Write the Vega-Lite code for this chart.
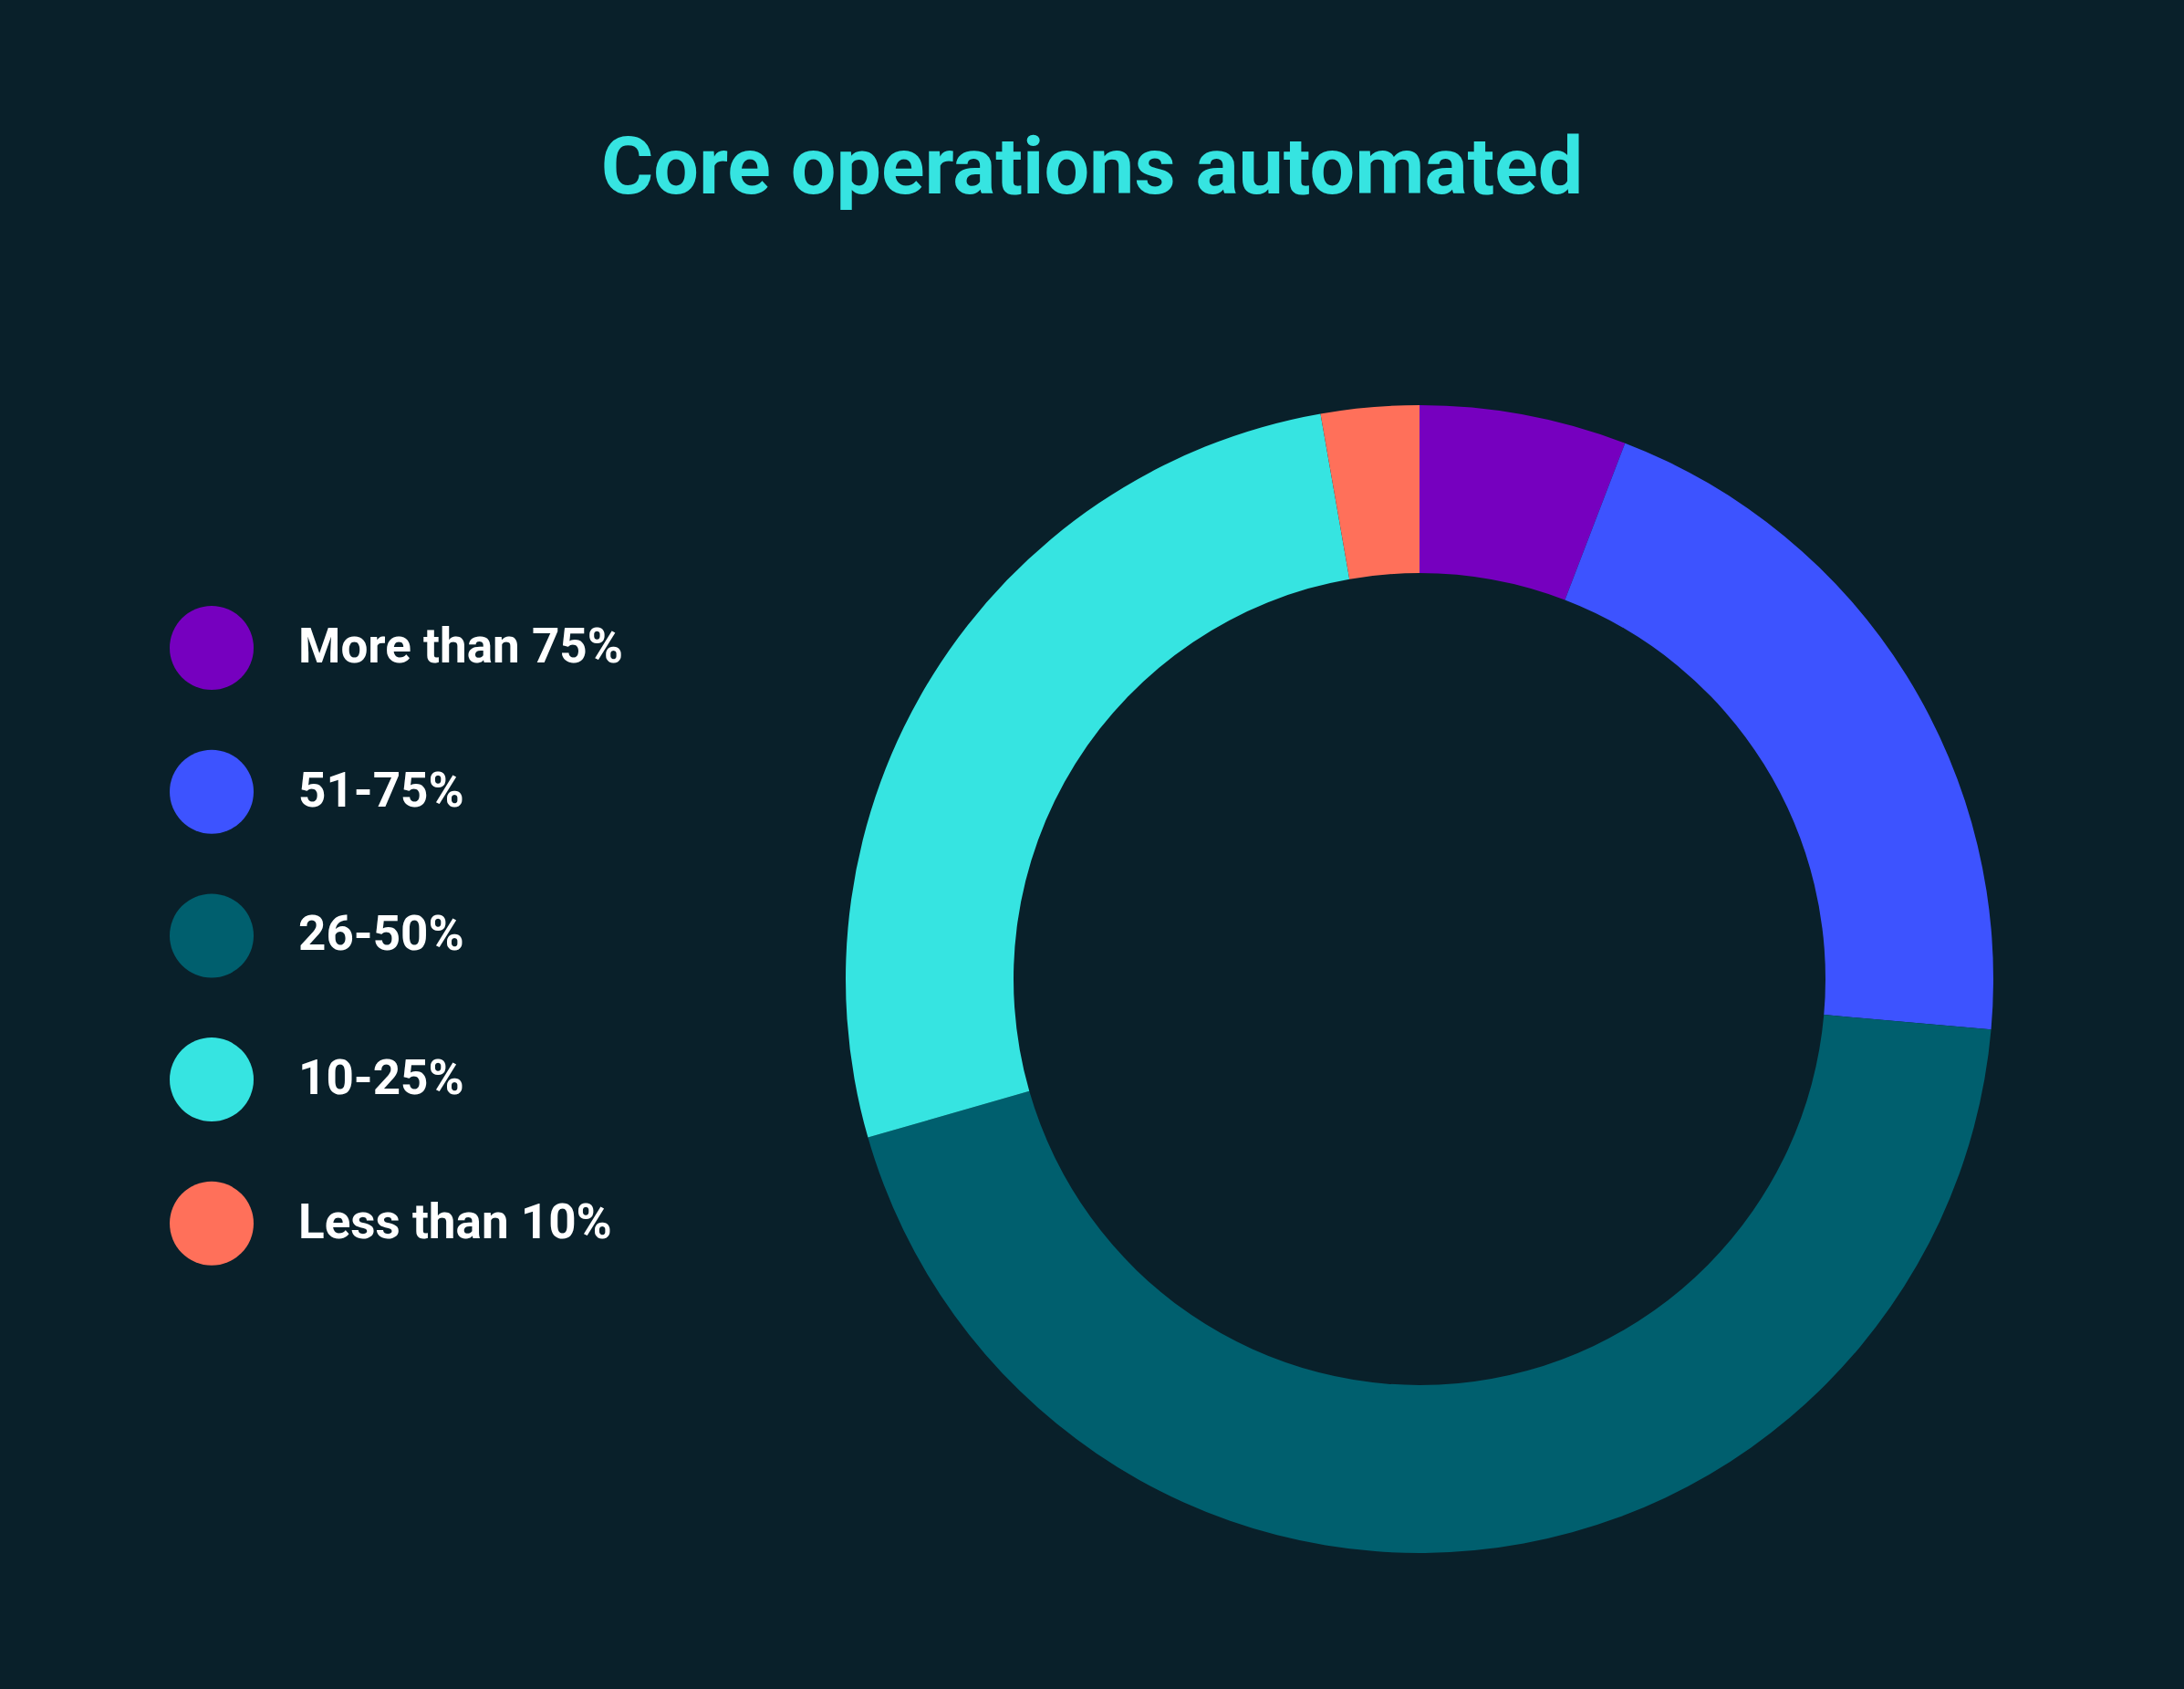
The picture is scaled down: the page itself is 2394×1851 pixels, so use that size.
{
  "$schema": "https://vega.github.io/schema/vega-lite/v6.json",
  "width": 1676,
  "height": 1556,
  "autosize": {"type": "none"},
  "padding": {"left": 718, "top": 295, "right": 0, "bottom": 0},
  "background": "#09202A",
  "title": {
    "text": "Core operations automated",
    "anchor": "middle",
    "frame": "group",
    "dx": -359,
    "dy": 66,
    "offset": 61,
    "baseline": "alphabetic",
    "font": "Roboto",
    "fontSize": 88,
    "fontWeight": "bold",
    "color": "#36E4E1"
  },
  "data": {
    "values": [
      {"category": "More than 75%", "share": 5.83, "rank": 1},
      {"category": "51-75%", "share": 20.57, "rank": 2},
      {"category": "26-50%", "share": 44.15, "rank": 3},
      {"category": "10-25%", "share": 26.69, "rank": 4},
      {"category": "Less than 10%", "share": 2.76, "rank": 5}
    ]
  },
  "mark": {"type": "arc", "outerRadius": 629, "innerRadius": 445, "strokeWidth": 0},
  "encoding": {
    "theta": {"field": "share", "type": "quantitative", "stack": true},
    "order": {"field": "rank", "type": "quantitative"},
    "color": {
      "field": "category",
      "type": "nominal",
      "scale": {
        "domain": ["More than 75%", "51-75%", "26-50%", "10-25%", "Less than 10%"],
        "range": ["#7600BF", "#3D53FF", "#005F6E", "#36E4E1", "#FF705A"]
      },
      "legend": {
        "title": null,
        "orient": "none",
        "legendX": -532,
        "legendY": 369,
        "padding": 0,
        "symbolType": "circle",
        "symbolSize": 8464,
        "symbolStrokeWidth": 0,
        "symbolOpacity": 1,
        "rowPadding": 65.7,
        "labelOffset": 49,
        "labelFont": "Roboto",
        "labelFontSize": 53,
        "labelFontWeight": "bold",
        "labelColor": "#FFFFFF",
        "labelLimit": 1000
      }
    }
  },
  "config": {"view": {"stroke": null}}
}
